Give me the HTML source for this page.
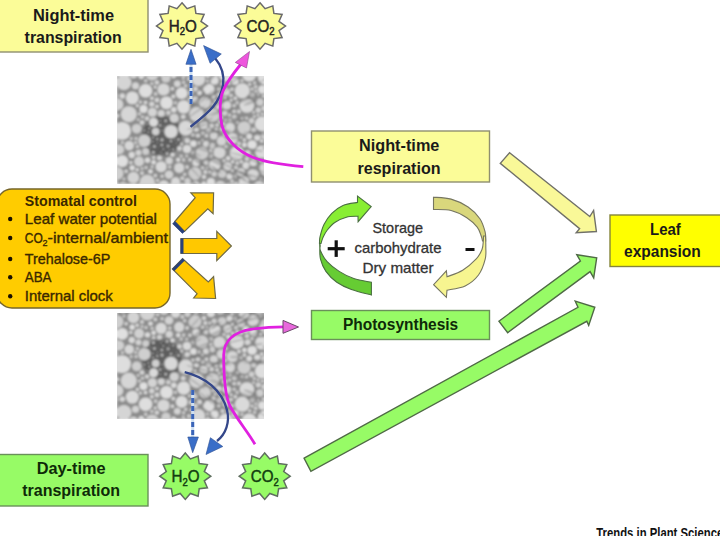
<!DOCTYPE html>
<html><head><meta charset="utf-8"><style>
html,body{margin:0;padding:0;background:#fff;}
body{width:720px;height:536px;overflow:hidden;position:relative;}
svg{position:absolute;left:0;top:0;font-family:"Liberation Sans", sans-serif;}
</style></head><body>
<svg width="720" height="536" viewBox="0 0 720 536">
<defs>
<filter id="blur" x="-5%" y="-5%" width="110%" height="110%"><feGaussianBlur stdDeviation="0.85"/></filter>
<g id="tex" filter="url(#blur)"><rect x="0" y="0" width="148" height="108" fill="#8c8c8c"/>
<ellipse cx="45" cy="60" rx="20" ry="20" fill="#646464"/>
<circle cx="54.0" cy="55.6" r="6.7" fill="rgb(216,216,216)"/>
<circle cx="27.4" cy="64.8" r="6.2" fill="rgb(207,207,207)"/>
<circle cx="36.6" cy="46.3" r="4.5" fill="rgb(218,218,218)"/>
<circle cx="38.7" cy="55.6" r="3.8" fill="rgb(208,208,208)"/>
<circle cx="46.5" cy="13.5" r="6.1" fill="rgb(215,215,215)"/>
<circle cx="97.5" cy="4.4" r="4.1" fill="rgb(222,222,222)"/>
<circle cx="79.6" cy="38.4" r="7.3" fill="rgb(212,212,212)"/>
<circle cx="5.0" cy="54.9" r="8.9" fill="rgb(222,222,222)"/>
<circle cx="6.9" cy="6.5" r="7.5" fill="rgb(213,213,213)"/>
<circle cx="62.2" cy="91.9" r="5.0" fill="rgb(213,213,213)"/>
<circle cx="15.3" cy="21.9" r="6.4" fill="rgb(219,219,219)"/>
<circle cx="93.9" cy="105.9" r="4.0" fill="rgb(223,223,223)"/>
<circle cx="148.3" cy="1.4" r="7.3" fill="rgb(223,223,223)"/>
<circle cx="129.9" cy="29.6" r="7.2" fill="rgb(218,218,218)"/>
<circle cx="18.5" cy="9.7" r="3.5" fill="rgb(212,212,212)"/>
<circle cx="44.1" cy="90.7" r="5.5" fill="rgb(217,217,217)"/>
<circle cx="95.7" cy="39.2" r="6.7" fill="rgb(206,206,206)"/>
<circle cx="81.4" cy="3.3" r="6.7" fill="rgb(216,216,216)"/>
<circle cx="5.3" cy="19.9" r="2.7" fill="rgb(216,216,216)"/>
<circle cx="102.1" cy="45.6" r="1.5" fill="rgb(220,220,220)"/>
<circle cx="45.0" cy="63.9" r="2.3" fill="rgb(181,181,181)" stroke="#2a2a2a" stroke-width="0.7"/>
<circle cx="66.7" cy="30.8" r="6.6" fill="rgb(220,220,220)"/>
<circle cx="119.9" cy="77.1" r="7.0" fill="rgb(219,219,219)"/>
<circle cx="77.9" cy="97.5" r="6.5" fill="rgb(206,206,206)"/>
<circle cx="109.8" cy="29.4" r="4.3" fill="rgb(215,215,215)"/>
<circle cx="61.2" cy="83.8" r="2.1" fill="rgb(222,222,222)"/>
<circle cx="19.7" cy="52.7" r="4.8" fill="rgb(207,207,207)"/>
<circle cx="2.1" cy="73.5" r="5.0" fill="rgb(208,208,208)"/>
<circle cx="115.3" cy="62.5" r="5.6" fill="rgb(213,213,213)"/>
<circle cx="104.5" cy="64.9" r="4.6" fill="rgb(212,212,212)"/>
<circle cx="86.5" cy="48.9" r="4.1" fill="rgb(213,213,213)"/>
<circle cx="127.0" cy="105.6" r="5.0" fill="rgb(217,217,217)"/>
<circle cx="70.0" cy="73.0" r="4.1" fill="rgb(218,218,218)"/>
<circle cx="56.2" cy="73.6" r="1.6" fill="rgb(184,184,184)" stroke="#2a2a2a" stroke-width="0.7"/>
<circle cx="5.2" cy="85.1" r="5.9" fill="rgb(224,224,224)"/>
<circle cx="123.8" cy="96.2" r="4.0" fill="rgb(215,215,215)"/>
<circle cx="52.0" cy="98.6" r="4.2" fill="rgb(211,211,211)"/>
<circle cx="145.4" cy="13.5" r="4.2" fill="rgb(223,223,223)"/>
<circle cx="32.4" cy="52.3" r="1.6" fill="rgb(181,181,181)" stroke="#2a2a2a" stroke-width="0.7"/>
<circle cx="87.9" cy="26.5" r="5.8" fill="rgb(209,209,209)"/>
<circle cx="-3.4" cy="44.6" r="3.3" fill="rgb(220,220,220)"/>
<circle cx="144.7" cy="76.1" r="6.5" fill="rgb(219,219,219)"/>
<circle cx="76.4" cy="67.6" r="3.2" fill="rgb(222,222,222)"/>
<circle cx="136.3" cy="86.5" r="3.6" fill="rgb(221,221,221)"/>
<circle cx="57.2" cy="42.3" r="4.5" fill="rgb(209,209,209)"/>
<circle cx="12.2" cy="69.6" r="4.7" fill="rgb(215,215,215)"/>
<circle cx="28.6" cy="14.8" r="6.7" fill="rgb(222,222,222)"/>
<circle cx="49.0" cy="2.1" r="4.5" fill="rgb(206,206,206)"/>
<circle cx="-4.0" cy="13.5" r="4.4" fill="rgb(213,213,213)"/>
<circle cx="11.8" cy="38.2" r="8.0" fill="rgb(214,214,214)"/>
<circle cx="-0.0" cy="97.4" r="6.4" fill="rgb(207,207,207)"/>
<circle cx="91.8" cy="13.2" r="5.5" fill="rgb(223,223,223)"/>
<circle cx="35.4" cy="36.3" r="4.5" fill="rgb(212,212,212)"/>
<circle cx="68.7" cy="52.1" r="7.3" fill="rgb(216,216,216)"/>
<circle cx="49.5" cy="26.7" r="6.3" fill="rgb(223,223,223)"/>
<circle cx="125.3" cy="14.7" r="7.5" fill="rgb(218,218,218)"/>
<circle cx="-0.4" cy="106.3" r="1.4" fill="rgb(219,219,219)"/>
<circle cx="78.4" cy="13.0" r="2.4" fill="rgb(212,212,212)"/>
<circle cx="78.4" cy="109.5" r="4.4" fill="rgb(210,210,210)"/>
<circle cx="130.7" cy="76.8" r="2.9" fill="rgb(213,213,213)"/>
<circle cx="22.1" cy="85.5" r="4.9" fill="rgb(209,209,209)"/>
<circle cx="79.1" cy="86.4" r="3.6" fill="rgb(219,219,219)"/>
<circle cx="129.0" cy="89.5" r="3.4" fill="rgb(218,218,218)"/>
<circle cx="31.4" cy="56.0" r="1.5" fill="rgb(179,179,179)" stroke="#2a2a2a" stroke-width="0.7"/>
<circle cx="0.4" cy="28.4" r="5.9" fill="rgb(212,212,212)"/>
<circle cx="36.4" cy="76.3" r="2.1" fill="rgb(184,184,184)" stroke="#2a2a2a" stroke-width="0.7"/>
<circle cx="145.2" cy="47.9" r="7.3" fill="rgb(222,222,222)"/>
<circle cx="142.2" cy="110.6" r="5.5" fill="rgb(213,213,213)"/>
<circle cx="127.1" cy="51.6" r="6.4" fill="rgb(206,206,206)"/>
<circle cx="97.9" cy="88.8" r="5.7" fill="rgb(219,219,219)"/>
<circle cx="113.0" cy="51.5" r="4.8" fill="rgb(214,214,214)"/>
<circle cx="58.6" cy="105.8" r="4.5" fill="rgb(217,217,217)"/>
<circle cx="109.1" cy="15.7" r="3.7" fill="rgb(217,217,217)"/>
<circle cx="16.4" cy="-2.3" r="4.5" fill="rgb(217,217,217)"/>
<circle cx="16.4" cy="101.6" r="5.8" fill="rgb(212,212,212)"/>
<circle cx="87.0" cy="100.9" r="2.1" fill="rgb(218,218,218)"/>
<circle cx="64.7" cy="17.2" r="5.9" fill="rgb(222,222,222)"/>
<circle cx="-3.4" cy="88.7" r="1.9" fill="rgb(211,211,211)"/>
<circle cx="34.8" cy="28.1" r="2.6" fill="rgb(214,214,214)"/>
<circle cx="91.6" cy="54.6" r="2.6" fill="rgb(211,211,211)"/>
<circle cx="75.9" cy="76.4" r="1.6" fill="rgb(213,213,213)"/>
<circle cx="70.6" cy="105.2" r="3.1" fill="rgb(207,207,207)"/>
<circle cx="105.1" cy="97.7" r="4.0" fill="rgb(206,206,206)"/>
<circle cx="143.0" cy="26.1" r="3.7" fill="rgb(207,207,207)"/>
<circle cx="118.3" cy="100.1" r="1.8" fill="rgb(206,206,206)"/>
<circle cx="30.3" cy="106.5" r="7.7" fill="rgb(211,211,211)"/>
<circle cx="150.4" cy="92.6" r="7.8" fill="rgb(213,213,213)"/>
<circle cx="26.5" cy="32.9" r="3.9" fill="rgb(224,224,224)"/>
<circle cx="108.7" cy="-1.7" r="7.1" fill="rgb(224,224,224)"/>
<circle cx="6.0" cy="110.3" r="4.3" fill="rgb(206,206,206)"/>
<circle cx="119.0" cy="108.7" r="2.7" fill="rgb(210,210,210)"/>
<circle cx="38.2" cy="11.0" r="1.5" fill="rgb(223,223,223)"/>
<circle cx="85.0" cy="77.2" r="6.2" fill="rgb(207,207,207)"/>
<circle cx="9.1" cy="95.3" r="1.8" fill="rgb(216,216,216)"/>
<circle cx="78.2" cy="23.7" r="3.2" fill="rgb(212,212,212)"/>
<circle cx="74.0" cy="16.6" r="2.2" fill="rgb(210,210,210)"/>
<circle cx="35.1" cy="-2.2" r="6.6" fill="rgb(208,208,208)"/>
<circle cx="103.3" cy="110.0" r="5.3" fill="rgb(208,208,208)"/>
<circle cx="40.0" cy="24.1" r="2.4" fill="rgb(214,214,214)"/>
<circle cx="147.7" cy="59.5" r="3.7" fill="rgb(209,209,209)"/>
<circle cx="44.3" cy="37.4" r="3.4" fill="rgb(212,212,212)"/>
<circle cx="27.4" cy="54.5" r="1.6" fill="rgb(180,180,180)" stroke="#2a2a2a" stroke-width="0.7"/>
<circle cx="56.8" cy="33.8" r="2.7" fill="rgb(220,220,220)"/>
<circle cx="109.0" cy="70.6" r="1.7" fill="rgb(211,211,211)"/>
<circle cx="135.1" cy="68.8" r="4.6" fill="rgb(224,224,224)"/>
<circle cx="110.5" cy="90.2" r="4.3" fill="rgb(212,212,212)"/>
<circle cx="102.5" cy="76.4" r="6.0" fill="rgb(214,214,214)"/>
<circle cx="93.7" cy="75.0" r="1.9" fill="rgb(207,207,207)"/>
<circle cx="72.3" cy="-3.6" r="3.7" fill="rgb(222,222,222)"/>
<circle cx="111.4" cy="109.2" r="2.0" fill="rgb(215,215,215)"/>
<circle cx="101.4" cy="29.7" r="3.2" fill="rgb(221,221,221)"/>
<circle cx="68.7" cy="9.7" r="1.5" fill="rgb(221,221,221)"/>
<circle cx="135.4" cy="19.1" r="2.6" fill="rgb(213,213,213)"/>
<circle cx="148.6" cy="104.6" r="2.4" fill="rgb(209,209,209)"/>
<circle cx="-3.7" cy="83.1" r="2.2" fill="rgb(221,221,221)"/>
<circle cx="151.8" cy="64.3" r="1.8" fill="rgb(214,214,214)"/>
<circle cx="40.6" cy="104.5" r="1.7" fill="rgb(210,210,210)"/>
<circle cx="42.5" cy="81.7" r="2.5" fill="rgb(211,211,211)"/>
<circle cx="112.9" cy="43.9" r="1.9" fill="rgb(211,211,211)"/>
<circle cx="132.2" cy="-1.5" r="7.0" fill="rgb(221,221,221)"/>
<circle cx="87.6" cy="-4.0" r="1.7" fill="rgb(222,222,222)"/>
<circle cx="43.0" cy="49.4" r="1.8" fill="rgb(193,193,193)" stroke="#2a2a2a" stroke-width="0.7"/>
<circle cx="48.7" cy="44.8" r="1.9" fill="rgb(194,194,194)" stroke="#2a2a2a" stroke-width="0.7"/>
<circle cx="102.5" cy="19.0" r="2.8" fill="rgb(208,208,208)"/>
<circle cx="147.3" cy="32.2" r="2.8" fill="rgb(211,211,211)"/>
<circle cx="30.5" cy="84.2" r="2.6" fill="rgb(220,220,220)"/>
<circle cx="136.1" cy="98.5" r="5.6" fill="rgb(214,214,214)"/>
<circle cx="141.3" cy="34.2" r="2.6" fill="rgb(210,210,210)"/>
<circle cx="146.4" cy="20.1" r="1.5" fill="rgb(217,217,217)"/>
<circle cx="112.6" cy="100.2" r="3.0" fill="rgb(219,219,219)"/>
<circle cx="124.3" cy="85.6" r="1.8" fill="rgb(219,219,219)"/>
<circle cx="118.0" cy="5.2" r="3.6" fill="rgb(223,223,223)"/>
<circle cx="46.8" cy="109.7" r="5.4" fill="rgb(217,217,217)"/>
<circle cx="133.8" cy="110.6" r="1.9" fill="rgb(212,212,212)"/>
<circle cx="106.7" cy="47.8" r="1.6" fill="rgb(214,214,214)"/>
<circle cx="70.1" cy="91.0" r="1.8" fill="rgb(220,220,220)"/>
<circle cx="141.1" cy="39.2" r="1.4" fill="rgb(214,214,214)"/>
<circle cx="36.6" cy="86.2" r="2.2" fill="rgb(224,224,224)"/>
<circle cx="89.0" cy="67.9" r="2.9" fill="rgb(216,216,216)"/>
<circle cx="35.8" cy="65.5" r="1.4" fill="rgb(178,178,178)" stroke="#2a2a2a" stroke-width="0.7"/>
<circle cx="21.5" cy="76.7" r="2.9" fill="rgb(211,211,211)"/>
<circle cx="30.0" cy="42.4" r="2.1" fill="rgb(215,215,215)"/>
<circle cx="89.5" cy="59.8" r="1.8" fill="rgb(214,214,214)"/>
<circle cx="61.5" cy="63.6" r="1.8" fill="rgb(193,193,193)" stroke="#2a2a2a" stroke-width="0.7"/>
<circle cx="62.4" cy="72.4" r="2.4" fill="rgb(214,214,214)"/>
<circle cx="72.4" cy="23.3" r="1.5" fill="rgb(212,212,212)"/>
<circle cx="138.9" cy="15.2" r="1.6" fill="rgb(210,210,210)"/>
<circle cx="28.5" cy="26.5" r="1.8" fill="rgb(223,223,223)"/>
<circle cx="132.2" cy="60.4" r="2.8" fill="rgb(219,219,219)"/>
<circle cx="120.4" cy="26.7" r="1.8" fill="rgb(216,216,216)"/>
<circle cx="52.2" cy="84.7" r="3.5" fill="rgb(212,212,212)"/>
<circle cx="44.8" cy="-3.8" r="1.7" fill="rgb(220,220,220)"/>
<circle cx="-3.6" cy="37.2" r="2.6" fill="rgb(208,208,208)"/>
<circle cx="37.4" cy="70.5" r="2.1" fill="rgb(180,180,180)" stroke="#2a2a2a" stroke-width="0.7"/>
<circle cx="64.2" cy="80.1" r="1.6" fill="rgb(207,207,207)"/>
<circle cx="52.7" cy="90.8" r="1.6" fill="rgb(213,213,213)"/>
<circle cx="114.1" cy="19.8" r="1.9" fill="rgb(221,221,221)"/>
<circle cx="50.1" cy="77.7" r="2.1" fill="rgb(191,191,191)" stroke="#2a2a2a" stroke-width="0.7"/>
<circle cx="105.1" cy="53.8" r="2.6" fill="rgb(216,216,216)"/>
<circle cx="136.6" cy="54.1" r="2.5" fill="rgb(206,206,206)"/>
<circle cx="20.2" cy="93.8" r="1.7" fill="rgb(221,221,221)"/>
<circle cx="56.6" cy="-0.1" r="2.3" fill="rgb(223,223,223)"/>
<circle cx="94.7" cy="49.7" r="2.3" fill="rgb(210,210,210)"/>
<circle cx="44.8" cy="68.9" r="1.9" fill="rgb(186,186,186)" stroke="#2a2a2a" stroke-width="0.7"/>
<circle cx="117.4" cy="41.1" r="2.4" fill="rgb(207,207,207)"/>
<circle cx="28.8" cy="75.4" r="3.4" fill="rgb(206,206,206)"/>
<circle cx="15.1" cy="110.2" r="1.8" fill="rgb(215,215,215)"/>
<circle cx="51.1" cy="70.1" r="2.1" fill="rgb(176,176,176)" stroke="#2a2a2a" stroke-width="0.7"/>
<circle cx="94.8" cy="-2.3" r="2.2" fill="rgb(212,212,212)"/>
<circle cx="98.3" cy="25.0" r="1.6" fill="rgb(207,207,207)"/>
<circle cx="95.4" cy="69.8" r="2.6" fill="rgb(220,220,220)"/>
<circle cx="125.1" cy="42.8" r="1.7" fill="rgb(208,208,208)"/>
<circle cx="100.1" cy="49.1" r="1.7" fill="rgb(222,222,222)"/>
<circle cx="24.3" cy="0.3" r="2.7" fill="rgb(223,223,223)"/>
<circle cx="43.1" cy="44.9" r="1.4" fill="rgb(180,180,180)" stroke="#2a2a2a" stroke-width="0.7"/>
<circle cx="60.3" cy="7.8" r="3.3" fill="rgb(213,213,213)"/>
<circle cx="96.5" cy="20.6" r="2.2" fill="rgb(214,214,214)"/>
<circle cx="71.9" cy="2.9" r="1.8" fill="rgb(218,218,218)"/>
<circle cx="70.3" cy="64.4" r="2.6" fill="rgb(213,213,213)"/>
<circle cx="151.6" cy="39.4" r="2.4" fill="rgb(210,210,210)"/>
<circle cx="143.7" cy="85.0" r="1.4" fill="rgb(224,224,224)"/>
<circle cx="36.1" cy="61.5" r="1.6" fill="rgb(181,181,181)" stroke="#2a2a2a" stroke-width="0.7"/>
<circle cx="127.4" cy="68.9" r="2.3" fill="rgb(224,224,224)"/>
<circle cx="121.9" cy="35.5" r="1.9" fill="rgb(213,213,213)"/>
<circle cx="25.0" cy="46.5" r="2.3" fill="rgb(214,214,214)"/>
<circle cx="25.0" cy="92.5" r="1.5" fill="rgb(206,206,206)"/>
<circle cx="53.9" cy="65.0" r="1.9" fill="rgb(180,180,180)" stroke="#2a2a2a" stroke-width="0.7"/>
<circle cx="14.8" cy="78.9" r="3.1" fill="rgb(218,218,218)"/>
<circle cx="46.1" cy="78.5" r="1.2" fill="rgb(192,192,192)" stroke="#2a2a2a" stroke-width="0.7"/>
<circle cx="35.1" cy="90.8" r="1.5" fill="rgb(211,211,211)"/>
<circle cx="-1.2" cy="65.5" r="2.4" fill="rgb(211,211,211)"/>
<circle cx="85.9" cy="56.7" r="1.9" fill="rgb(212,212,212)"/>
<circle cx="105.6" cy="7.9" r="2.1" fill="rgb(212,212,212)"/>
<circle cx="88.3" cy="95.9" r="2.0" fill="rgb(216,216,216)"/>
<circle cx="19.0" cy="62.4" r="1.5" fill="rgb(214,214,214)"/>
<circle cx="117.2" cy="35.3" r="1.9" fill="rgb(209,209,209)"/>
<circle cx="111.2" cy="82.2" r="2.2" fill="rgb(219,219,219)"/>
<circle cx="138.7" cy="10.8" r="1.9" fill="rgb(207,207,207)"/>
<circle cx="-2.3" cy="1.5" r="2.0" fill="rgb(216,216,216)"/>
<circle cx="134.6" cy="44.8" r="2.8" fill="rgb(208,208,208)"/>
<circle cx="20.4" cy="29.6" r="1.7" fill="rgb(217,217,217)"/>
<circle cx="43.9" cy="76.1" r="1.3" fill="rgb(193,193,193)" stroke="#2a2a2a" stroke-width="0.7"/>
<circle cx="127.4" cy="64.0" r="1.7" fill="rgb(219,219,219)"/>
<circle cx="107.6" cy="37.0" r="2.7" fill="rgb(209,209,209)"/>
<circle cx="66.2" cy="40.7" r="2.3" fill="rgb(215,215,215)"/>
<circle cx="86.9" cy="107.3" r="2.0" fill="rgb(222,222,222)"/>
<circle cx="64.6" cy="67.9" r="1.5" fill="rgb(209,209,209)"/>
<circle cx="45.1" cy="100.3" r="1.7" fill="rgb(211,211,211)"/>
<circle cx="108.1" cy="21.7" r="1.5" fill="rgb(212,212,212)"/>
<circle cx="15.2" cy="91.8" r="2.6" fill="rgb(224,224,224)"/>
<circle cx="76.0" cy="58.9" r="1.6" fill="rgb(210,210,210)"/>
<circle cx="46.1" cy="72.9" r="1.5" fill="rgb(177,177,177)" stroke="#2a2a2a" stroke-width="0.7"/>
<circle cx="104.4" cy="41.7" r="1.5" fill="rgb(219,219,219)"/>
<circle cx="39.9" cy="6.4" r="2.2" fill="rgb(215,215,215)"/>
<circle cx="46.6" cy="50.4" r="1.1" fill="rgb(182,182,182)" stroke="#2a2a2a" stroke-width="0.7"/>
<circle cx="65.1" cy="108.5" r="1.4" fill="rgb(221,221,221)"/>
<circle cx="55.4" cy="12.7" r="1.7" fill="rgb(222,222,222)"/>
<circle cx="22.5" cy="37.9" r="1.4" fill="rgb(219,219,219)"/>
<circle cx="140.3" cy="61.4" r="3.1" fill="rgb(219,219,219)"/>
<circle cx="107.0" cy="84.5" r="1.5" fill="rgb(215,215,215)"/>
<circle cx="150.4" cy="22.5" r="2.2" fill="rgb(206,206,206)"/>
<circle cx="82.6" cy="17.1" r="2.4" fill="rgb(219,219,219)"/>
<circle cx="-0.9" cy="110.9" r="1.5" fill="rgb(215,215,215)"/>
<circle cx="74.1" cy="9.0" r="1.5" fill="rgb(213,213,213)"/>
<circle cx="80.9" cy="59.7" r="2.2" fill="rgb(209,209,209)"/>
<circle cx="96.8" cy="59.7" r="3.8" fill="rgb(211,211,211)"/>
<circle cx="69.8" cy="79.7" r="1.5" fill="rgb(209,209,209)"/>
<circle cx="66.6" cy="6.2" r="1.5" fill="rgb(216,216,216)"/>
<circle cx="38.3" cy="99.6" r="1.8" fill="rgb(213,213,213)"/>
<circle cx="88.9" cy="86.9" r="2.4" fill="rgb(206,206,206)"/>
<circle cx="101.9" cy="13.5" r="1.8" fill="rgb(221,221,221)"/>
<circle cx="49.0" cy="65.0" r="1.1" fill="rgb(188,188,188)" stroke="#2a2a2a" stroke-width="0.7"/>
<circle cx="145.4" cy="38.0" r="1.6" fill="rgb(215,215,215)"/>
<circle cx="135.0" cy="80.5" r="1.6" fill="rgb(211,211,211)"/>
<circle cx="96.1" cy="28.6" r="1.4" fill="rgb(222,222,222)"/>
<circle cx="85.7" cy="91.8" r="1.8" fill="rgb(209,209,209)"/>
<circle cx="25.0" cy="97.1" r="1.9" fill="rgb(215,215,215)"/>
<circle cx="97.2" cy="97.9" r="2.6" fill="rgb(206,206,206)"/>
<circle cx="90.1" cy="91.6" r="1.5" fill="rgb(212,212,212)"/>
<circle cx="94.3" cy="80.0" r="2.1" fill="rgb(209,209,209)"/>
<circle cx="143.9" cy="102.7" r="1.7" fill="rgb(220,220,220)"/>
<circle cx="69.5" cy="110.9" r="1.6" fill="rgb(209,209,209)"/>
<circle cx="137.3" cy="40.4" r="1.5" fill="rgb(211,211,211)"/>
<circle cx="33.4" cy="71.3" r="1.2" fill="rgb(177,177,177)" stroke="#2a2a2a" stroke-width="0.7"/>
<circle cx="118.9" cy="91.6" r="1.9" fill="rgb(212,212,212)"/>
<circle cx="114.9" cy="13.1" r="1.9" fill="rgb(213,213,213)"/>
<circle cx="59.6" cy="66.9" r="1.2" fill="rgb(183,183,183)" stroke="#2a2a2a" stroke-width="0.7"/>
<circle cx="6.9" cy="-3.4" r="1.4" fill="rgb(218,218,218)"/>
<circle cx="34.9" cy="7.6" r="1.7" fill="rgb(207,207,207)"/>
<circle cx="21.2" cy="43.6" r="1.4" fill="rgb(208,208,208)"/>
<circle cx="45.3" cy="54.5" r="1.3" fill="rgb(184,184,184)" stroke="#2a2a2a" stroke-width="0.7"/>
<circle cx="114.1" cy="24.1" r="1.4" fill="rgb(224,224,224)"/>
<circle cx="64.3" cy="-3.6" r="3.3" fill="rgb(219,219,219)"/>
<circle cx="33.5" cy="95.4" r="2.2" fill="rgb(224,224,224)"/>
<circle cx="82.1" cy="67.0" r="1.4" fill="rgb(207,207,207)"/>
<circle cx="117.2" cy="29.9" r="1.8" fill="rgb(210,210,210)"/>
<circle cx="65.3" cy="102.2" r="1.9" fill="rgb(211,211,211)"/>
<circle cx="111.8" cy="7.3" r="1.6" fill="rgb(215,215,215)"/>
<circle cx="23.4" cy="26.1" r="1.5" fill="rgb(219,219,219)"/>
<circle cx="115.6" cy="85.7" r="1.6" fill="rgb(223,223,223)"/>
<circle cx="59.8" cy="48.2" r="1.1" fill="rgb(190,190,190)" stroke="#2a2a2a" stroke-width="0.7"/>
<circle cx="43.0" cy="59.2" r="1.0" fill="rgb(181,181,181)" stroke="#2a2a2a" stroke-width="0.7"/>
<circle cx="73.0" cy="83.8" r="1.8" fill="rgb(213,213,213)"/>
<circle cx="29.0" cy="91.5" r="1.5" fill="rgb(216,216,216)"/>
<circle cx="124.9" cy="4.7" r="1.6" fill="rgb(207,207,207)"/>
<circle cx="28.7" cy="4.7" r="1.7" fill="rgb(208,208,208)"/>
<circle cx="53.2" cy="-3.9" r="1.7" fill="rgb(224,224,224)"/>
<circle cx="62.0" cy="58.7" r="1.1" fill="rgb(189,189,189)" stroke="#2a2a2a" stroke-width="0.7"/>
<circle cx="150.4" cy="111.9" r="1.9" fill="rgb(222,222,222)"/>
<circle cx="144.8" cy="65.0" r="1.7" fill="rgb(224,224,224)"/>
<circle cx="108.0" cy="58.4" r="1.9" fill="rgb(212,212,212)"/>
<circle cx="132.7" cy="8.2" r="1.5" fill="rgb(220,220,220)"/>
<circle cx="79.4" cy="53.7" r="2.4" fill="rgb(218,218,218)"/>
<circle cx="99.3" cy="53.2" r="1.6" fill="rgb(212,212,212)"/>
<circle cx="55.5" cy="78.6" r="2.2" fill="rgb(218,218,218)"/>
<circle cx="5.4" cy="66.4" r="1.6" fill="rgb(206,206,206)"/>
<circle cx="20.1" cy="109.5" r="1.8" fill="rgb(216,216,216)"/>
<circle cx="129.4" cy="42.5" r="1.7" fill="rgb(219,219,219)"/>
<circle cx="40.3" cy="63.1" r="1.6" fill="rgb(193,193,193)" stroke="#2a2a2a" stroke-width="0.7"/>
<circle cx="135.0" cy="13.1" r="1.5" fill="rgb(217,217,217)"/>
<circle cx="90.8" cy="5.2" r="1.7" fill="rgb(218,218,218)"/>
<circle cx="66.4" cy="2.1" r="1.5" fill="rgb(210,210,210)"/>
<circle cx="67.7" cy="98.3" r="1.6" fill="rgb(213,213,213)"/>
<circle cx="57.0" cy="70.1" r="1.1" fill="rgb(186,186,186)" stroke="#2a2a2a" stroke-width="0.7"/>
<circle cx="18.7" cy="66.7" r="1.4" fill="rgb(217,217,217)"/>
<circle cx="40.0" cy="30.5" r="1.8" fill="rgb(219,219,219)"/>
<circle cx="112.5" cy="39.0" r="1.6" fill="rgb(213,213,213)"/>
<circle cx="89.5" cy="111.8" r="2.2" fill="rgb(212,212,212)"/>
<circle cx="-0.3" cy="19.7" r="1.7" fill="rgb(208,208,208)"/>
<circle cx="118.3" cy="22.2" r="1.8" fill="rgb(219,219,219)"/>
<circle cx="38.6" cy="17.9" r="1.9" fill="rgb(206,206,206)"/>
<circle cx="0.9" cy="39.8" r="1.5" fill="rgb(216,216,216)"/>
<circle cx="56.3" cy="20.4" r="1.9" fill="rgb(218,218,218)"/>
<circle cx="42.8" cy="73.0" r="1.0" fill="rgb(189,189,189)" stroke="#2a2a2a" stroke-width="0.7"/>
<circle cx="119.6" cy="-2.4" r="3.0" fill="rgb(220,220,220)"/>
<circle cx="13.8" cy="86.6" r="1.7" fill="rgb(218,218,218)"/>
<circle cx="25.5" cy="40.8" r="1.6" fill="rgb(208,208,208)"/>
<circle cx="40.9" cy="75.1" r="1.0" fill="rgb(184,184,184)" stroke="#2a2a2a" stroke-width="0.7"/>
<circle cx="85.4" cy="63.8" r="1.4" fill="rgb(213,213,213)"/>
<circle cx="151.3" cy="70.2" r="1.4" fill="rgb(223,223,223)"/>
<circle cx="36.7" cy="81.4" r="1.5" fill="rgb(223,223,223)"/>
<circle cx="122.0" cy="67.6" r="1.8" fill="rgb(220,220,220)"/>
<circle cx="120.2" cy="87.1" r="1.8" fill="rgb(215,215,215)"/>
<circle cx="92.7" cy="95.9" r="1.5" fill="rgb(213,213,213)"/>
<circle cx="30.2" cy="48.2" r="1.4" fill="rgb(187,187,187)" stroke="#2a2a2a" stroke-width="0.7"/>
<circle cx="34.9" cy="22.3" r="1.8" fill="rgb(220,220,220)"/>
<circle cx="14.2" cy="62.6" r="1.5" fill="rgb(206,206,206)"/>
<circle cx="150.9" cy="27.4" r="1.9" fill="rgb(209,209,209)"/>
<circle cx="103.1" cy="24.5" r="1.5" fill="rgb(223,223,223)"/>
<circle cx="115.4" cy="94.6" r="1.4" fill="rgb(220,220,220)"/>
<circle cx="120.4" cy="45.9" r="1.5" fill="rgb(209,209,209)"/>
<circle cx="123.9" cy="61.6" r="1.6" fill="rgb(214,214,214)"/>
<circle cx="148.8" cy="67.2" r="1.4" fill="rgb(208,208,208)"/>
<circle cx="51.4" cy="36.8" r="2.3" fill="rgb(208,208,208)"/>
<circle cx="141.1" cy="18.4" r="1.4" fill="rgb(213,213,213)"/>
<circle cx="136.6" cy="36.4" r="1.4" fill="rgb(211,211,211)"/>
<circle cx="20.4" cy="70.5" r="1.6" fill="rgb(212,212,212)"/>
<circle cx="0.7" cy="-2.8" r="2.2" fill="rgb(215,215,215)"/>
<circle cx="66.6" cy="83.9" r="1.8" fill="rgb(206,206,206)"/>
<circle cx="129.9" cy="82.9" r="2.3" fill="rgb(210,210,210)"/>
<circle cx="28.6" cy="51.1" r="1.1" fill="rgb(176,176,176)" stroke="#2a2a2a" stroke-width="0.7"/>
<circle cx="52.4" cy="74.0" r="1.2" fill="rgb(187,187,187)" stroke="#2a2a2a" stroke-width="0.7"/>
<circle cx="7.0" cy="103.1" r="1.5" fill="rgb(207,207,207)"/>
<circle cx="90.7" cy="0.4" r="1.7" fill="rgb(214,214,214)"/>
<circle cx="137.6" cy="6.7" r="1.5" fill="rgb(214,214,214)"/>
<circle cx="115.0" cy="105.2" r="1.7" fill="rgb(213,213,213)"/>
<circle cx="78.1" cy="48.3" r="1.5" fill="rgb(206,206,206)"/>
<circle cx="108.6" cy="44.3" r="1.5" fill="rgb(219,219,219)"/>
<circle cx="40.3" cy="66.5" r="1.1" fill="rgb(187,187,187)" stroke="#2a2a2a" stroke-width="0.7"/>
<circle cx="58.4" cy="26.7" r="1.5" fill="rgb(213,213,213)"/>
<circle cx="57.8" cy="63.5" r="1.2" fill="rgb(188,188,188)" stroke="#2a2a2a" stroke-width="0.7"/>
<circle cx="-3.1" cy="5.9" r="1.4" fill="rgb(207,207,207)"/>
<ellipse cx="134.2" cy="18.5" rx="5.7" ry="1.2" fill="rgb(118,118,118)" opacity="0.35" transform="rotate(-25 134.2 18.5)"/>
<ellipse cx="98.2" cy="36.4" rx="9.4" ry="0.7" fill="rgb(118,118,118)" opacity="0.35" transform="rotate(-24 98.2 36.4)"/>
<ellipse cx="100.9" cy="71.0" rx="12.0" ry="0.8" fill="rgb(117,117,117)" opacity="0.35" transform="rotate(11 100.9 71.0)"/>
<ellipse cx="131.3" cy="22.6" rx="12.8" ry="1.4" fill="rgb(98,98,98)" opacity="0.35" transform="rotate(-23 131.3 22.6)"/>
<ellipse cx="119.9" cy="94.1" rx="11.9" ry="0.8" fill="rgb(125,125,125)" opacity="0.35" transform="rotate(24 119.9 94.1)"/>
<ellipse cx="99.6" cy="94.3" rx="5.4" ry="1.0" fill="rgb(108,108,108)" opacity="0.35" transform="rotate(32 99.6 94.3)"/>
<ellipse cx="115.3" cy="32.5" rx="5.9" ry="0.9" fill="rgb(95,95,95)" opacity="0.35" transform="rotate(-21 115.3 32.5)"/>
<ellipse cx="120.5" cy="78.3" rx="10.5" ry="0.9" fill="rgb(114,114,114)" opacity="0.35" transform="rotate(14 120.5 78.3)"/>
<ellipse cx="140.2" cy="85.8" rx="8.6" ry="1.2" fill="rgb(102,102,102)" opacity="0.35" transform="rotate(15 140.2 85.8)"/>
<ellipse cx="78.8" cy="77.6" rx="6.2" ry="1.0" fill="rgb(122,122,122)" opacity="0.35" transform="rotate(28 78.8 77.6)"/>
<ellipse cx="100.7" cy="27.9" rx="9.3" ry="0.8" fill="rgb(99,99,99)" opacity="0.35" transform="rotate(-30 100.7 27.9)"/>
<ellipse cx="139.9" cy="93.8" rx="10.6" ry="1.0" fill="rgb(123,123,123)" opacity="0.35" transform="rotate(20 139.9 93.8)"/>
<ellipse cx="102.9" cy="36.2" rx="9.6" ry="0.9" fill="rgb(96,96,96)" opacity="0.35" transform="rotate(-22 102.9 36.2)"/>
<ellipse cx="76.8" cy="95.0" rx="10.0" ry="0.9" fill="rgb(116,116,116)" opacity="0.35" transform="rotate(48 76.8 95.0)"/>
<ellipse cx="87.7" cy="45.1" rx="9.1" ry="1.1" fill="rgb(95,95,95)" opacity="0.35" transform="rotate(-19 87.7 45.1)"/>
<ellipse cx="79.6" cy="35.7" rx="10.4" ry="0.8" fill="rgb(96,96,96)" opacity="0.35" transform="rotate(-35 79.6 35.7)"/>
<ellipse cx="133.6" cy="26.5" rx="7.5" ry="1.5" fill="rgb(110,110,110)" opacity="0.35" transform="rotate(-21 133.6 26.5)"/>
<ellipse cx="98.3" cy="92.7" rx="6.1" ry="1.1" fill="rgb(113,113,113)" opacity="0.35" transform="rotate(31 98.3 92.7)"/>
<ellipse cx="89.6" cy="20.4" rx="9.0" ry="1.0" fill="rgb(106,106,106)" opacity="0.35" transform="rotate(-42 89.6 20.4)"/>
<ellipse cx="98.4" cy="45.6" rx="5.8" ry="0.9" fill="rgb(120,120,120)" opacity="0.35" transform="rotate(-15 98.4 45.6)"/>
<ellipse cx="143.9" cy="103.3" rx="12.9" ry="1.4" fill="rgb(114,114,114)" opacity="0.35" transform="rotate(24 143.9 103.3)"/>
<ellipse cx="111.8" cy="96.4" rx="10.8" ry="1.5" fill="rgb(119,119,119)" opacity="0.35" transform="rotate(29 111.8 96.4)"/>
<ellipse cx="131.0" cy="106.4" rx="12.5" ry="0.9" fill="rgb(116,116,116)" opacity="0.35" transform="rotate(28 131.0 106.4)"/>
<ellipse cx="126.4" cy="98.6" rx="9.8" ry="1.1" fill="rgb(112,112,112)" opacity="0.35" transform="rotate(25 126.4 98.6)"/>
<ellipse cx="87.9" cy="89.4" rx="12.2" ry="1.1" fill="rgb(110,110,110)" opacity="0.35" transform="rotate(34 87.9 89.4)"/>
<ellipse cx="147.5" cy="102.7" rx="8.8" ry="0.9" fill="rgb(112,112,112)" opacity="0.35" transform="rotate(23 147.5 102.7)"/>
<ellipse cx="128.7" cy="98.0" rx="7.5" ry="0.7" fill="rgb(106,106,106)" opacity="0.35" transform="rotate(24 128.7 98.0)"/>
<ellipse cx="103.5" cy="86.3" rx="11.9" ry="0.9" fill="rgb(121,121,121)" opacity="0.35" transform="rotate(24 103.5 86.3)"/>
<ellipse cx="120.0" cy="2.7" rx="7.5" ry="1.0" fill="rgb(99,99,99)" opacity="0.35" transform="rotate(-37 120.0 2.7)"/>
<ellipse cx="147.8" cy="3.4" rx="8.2" ry="0.7" fill="rgb(114,114,114)" opacity="0.35" transform="rotate(-29 147.8 3.4)"/>
<ellipse cx="80.1" cy="25.4" rx="7.5" ry="0.8" fill="rgb(109,109,109)" opacity="0.35" transform="rotate(-45 80.1 25.4)"/>
<ellipse cx="77.2" cy="107.5" rx="11.0" ry="1.4" fill="rgb(105,105,105)" opacity="0.35" transform="rotate(56 77.2 107.5)"/>
<ellipse cx="79.0" cy="84.7" rx="11.6" ry="1.2" fill="rgb(122,122,122)" opacity="0.35" transform="rotate(36 79.0 84.7)"/>
<ellipse cx="80.2" cy="50.8" rx="11.3" ry="1.0" fill="rgb(96,96,96)" opacity="0.35" transform="rotate(-15 80.2 50.8)"/>
<ellipse cx="102.5" cy="55.4" rx="12.5" ry="1.4" fill="rgb(101,101,101)" opacity="0.35" transform="rotate(-5 102.5 55.4)"/>
<ellipse cx="106.2" cy="25.6" rx="11.8" ry="1.4" fill="rgb(101,101,101)" opacity="0.35" transform="rotate(-29 106.2 25.6)"/>
<ellipse cx="115.7" cy="43.1" rx="11.2" ry="1.1" fill="rgb(120,120,120)" opacity="0.35" transform="rotate(-13 115.7 43.1)"/>
<ellipse cx="151.3" cy="72.7" rx="6.7" ry="1.4" fill="rgb(99,99,99)" opacity="0.35" transform="rotate(7 151.3 72.7)"/>
<ellipse cx="121.2" cy="82.8" rx="9.9" ry="0.7" fill="rgb(115,115,115)" opacity="0.35" transform="rotate(17 121.2 82.8)"/>
<ellipse cx="119.1" cy="62.0" rx="6.6" ry="1.5" fill="rgb(120,120,120)" opacity="0.35" transform="rotate(2 119.1 62.0)"/>
<ellipse cx="106.6" cy="16.3" rx="12.7" ry="0.7" fill="rgb(95,95,95)" opacity="0.35" transform="rotate(-35 106.6 16.3)"/>
<ellipse cx="152.6" cy="102.2" rx="10.6" ry="0.7" fill="rgb(112,112,112)" opacity="0.35" transform="rotate(21 152.6 102.2)"/>
<ellipse cx="137.7" cy="56.0" rx="12.0" ry="1.0" fill="rgb(120,120,120)" opacity="0.35" transform="rotate(-2 137.7 56.0)"/>
<ellipse cx="123.8" cy="96.9" rx="8.7" ry="0.9" fill="rgb(107,107,107)" opacity="0.35" transform="rotate(25 123.8 96.9)"/>
<ellipse cx="136.3" cy="73.9" rx="10.1" ry="1.4" fill="rgb(111,111,111)" opacity="0.35" transform="rotate(9 136.3 73.9)"/>
<ellipse cx="128.7" cy="97.6" rx="6.7" ry="1.0" fill="rgb(124,124,124)" opacity="0.35" transform="rotate(24 128.7 97.6)"/>
<ellipse cx="147.6" cy="102.9" rx="8.2" ry="0.9" fill="rgb(124,124,124)" opacity="0.35" transform="rotate(23 147.6 102.9)"/>
<ellipse cx="124.4" cy="44.2" rx="6.5" ry="1.4" fill="rgb(98,98,98)" opacity="0.35" transform="rotate(-11 124.4 44.2)"/>
<ellipse cx="99.2" cy="86.5" rx="10.2" ry="1.4" fill="rgb(115,115,115)" opacity="0.35" transform="rotate(26 99.2 86.5)"/>
<ellipse cx="87.6" cy="74.2" rx="9.3" ry="1.2" fill="rgb(111,111,111)" opacity="0.35" transform="rotate(19 87.6 74.2)"/>
<ellipse cx="79.2" cy="62.6" rx="9.8" ry="1.3" fill="rgb(98,98,98)" opacity="0.35" transform="rotate(4 79.2 62.6)"/>
<ellipse cx="88.3" cy="55.3" rx="11.7" ry="1.5" fill="rgb(122,122,122)" opacity="0.35" transform="rotate(-6 88.3 55.3)"/>
<ellipse cx="142.1" cy="58.4" rx="7.3" ry="1.4" fill="rgb(110,110,110)" opacity="0.35" transform="rotate(-1 142.1 58.4)"/>
<ellipse cx="94.1" cy="3.0" rx="11.3" ry="1.4" fill="rgb(116,116,116)" opacity="0.35" transform="rotate(-49 94.1 3.0)"/>
<ellipse cx="96.5" cy="18.6" rx="9.3" ry="1.3" fill="rgb(100,100,100)" opacity="0.35" transform="rotate(-39 96.5 18.6)"/>
<ellipse cx="80.2" cy="23.9" rx="12.2" ry="1.3" fill="rgb(104,104,104)" opacity="0.35" transform="rotate(-46 80.2 23.9)"/>
<ellipse cx="97.3" cy="81.1" rx="6.3" ry="0.9" fill="rgb(106,106,106)" opacity="0.35" transform="rotate(22 97.3 81.1)"/>
<ellipse cx="151.0" cy="83.7" rx="9.2" ry="1.1" fill="rgb(108,108,108)" opacity="0.35" transform="rotate(13 151.0 83.7)"/>
<ellipse cx="124.1" cy="101.3" rx="5.8" ry="1.1" fill="rgb(98,98,98)" opacity="0.35" transform="rotate(28 124.1 101.3)"/>
<ellipse cx="141.2" cy="57.2" rx="8.5" ry="0.7" fill="rgb(116,116,116)" opacity="0.35" transform="rotate(-2 141.2 57.2)"/></g>
<clipPath id="clip1"><rect x="117" y="76" width="147" height="108"/></clipPath>
<clipPath id="clip2"><rect x="117" y="313" width="148" height="106"/></clipPath>
</defs>
<svg x="117" y="76" width="147" height="108"><use href="#tex"/></svg>
<svg x="117" y="313" width="147" height="106"><g transform="translate(0,106) scale(1,-1)"><use href="#tex"/></g></svg>
<rect x="-4" y="-4" width="152" height="56" fill="#fbfc98" stroke="#8f8f70" stroke-width="1.4"/>
<rect x="311.5" y="131" width="178" height="51" fill="#fbfc98" stroke="#8f8f70" stroke-width="1.4"/>
<rect x="610" y="215" width="120" height="51.5" fill="#ffff00" stroke="#85853a" stroke-width="1.4"/>
<rect x="311.5" y="310.5" width="178" height="29" fill="#97fb66" stroke="#6a905a" stroke-width="1.4"/>
<rect x="-4" y="454.5" width="152" height="51.5" fill="#97fb66" stroke="#6a905a" stroke-width="1.4"/>
<rect x="-3" y="189" width="173" height="119" rx="15" ry="15" fill="#ffcc00" stroke="#76652a" stroke-width="1.4"/>
<polygon points="182.0,2.8 187.1,8.7 194.8,5.9 195.9,13.4 204.1,14.4 201.0,21.4 207.5,26.0 201.0,30.6 204.1,37.6 195.9,38.6 194.8,46.1 187.1,43.3 182.0,49.2 176.9,43.3 169.2,46.1 168.1,38.6 159.9,37.6 163.0,30.6 156.5,26.0 163.0,21.4 159.9,14.4 168.1,13.4 169.2,5.9 176.9,8.7" fill="#fbfc98" stroke="#6a6a6a" stroke-width="1.5"/>
<polygon points="260.0,2.8 265.1,8.7 272.8,5.9 273.9,13.4 282.1,14.4 279.0,21.4 285.5,26.0 279.0,30.6 282.1,37.6 273.9,38.6 272.8,46.1 265.1,43.3 260.0,49.2 254.9,43.3 247.2,46.1 246.1,38.6 237.9,37.6 241.0,30.6 234.5,26.0 241.0,21.4 237.9,14.4 246.1,13.4 247.2,5.9 254.9,8.7" fill="#fbfc98" stroke="#6a6a6a" stroke-width="1.5"/>
<polygon points="185.3,453.0 190.4,458.9 198.1,456.1 199.2,463.6 207.4,464.6 204.3,471.6 210.8,476.2 204.3,480.8 207.4,487.8 199.2,488.8 198.1,496.3 190.4,493.5 185.3,499.4 180.2,493.5 172.6,496.3 171.4,488.8 163.2,487.8 166.3,480.8 159.8,476.2 166.3,471.6 163.2,464.6 171.4,463.6 172.6,456.1 180.2,458.9" fill="#97fb66" stroke="#5f6f5f" stroke-width="1.5"/>
<polygon points="264.7,453.0 269.8,458.9 277.4,456.1 278.6,463.6 286.8,464.6 283.7,471.6 290.2,476.2 283.7,480.8 286.8,487.8 278.6,488.8 277.4,496.3 269.8,493.5 264.7,499.4 259.6,493.5 251.9,496.3 250.8,488.8 242.6,487.8 245.7,480.8 239.2,476.2 245.7,471.6 242.6,464.6 250.8,463.6 251.9,456.1 259.6,458.9" fill="#97fb66" stroke="#5f6f5f" stroke-width="1.5"/>
<g transform="translate(182.9,31.5) scale(0.95,1)"><text x="0" y="0" font-size="16" fill="#222" stroke="#222" stroke-width="0.45" text-anchor="middle">H<tspan font-size="10" dy="3.7">2</tspan><tspan dy="-3.7">O</tspan></text></g>
<g transform="translate(260.5,31.5) scale(0.95,1)"><text x="0" y="0" font-size="16" fill="#222" stroke="#222" stroke-width="0.45" text-anchor="middle">CO<tspan font-size="10" dy="3.7">2</tspan><tspan dy="-3.7"></tspan></text></g>
<g transform="translate(185.5,482.3) scale(0.95,1)"><text x="0" y="0" font-size="16" fill="#123d10" stroke="#123d10" stroke-width="0.45" text-anchor="middle">H<tspan font-size="10" dy="3.7">2</tspan><tspan dy="-3.7">O</tspan></text></g>
<g transform="translate(264.7,482.3) scale(0.95,1)"><text x="0" y="0" font-size="16" fill="#123d10" stroke="#123d10" stroke-width="0.45" text-anchor="middle">CO<tspan font-size="10" dy="3.7">2</tspan><tspan dy="-3.7"></tspan></text></g>
<text x="33" y="20.7" font-size="15.8" fill="#1a1a1a" font-weight="bold" textLength="81" lengthAdjust="spacingAndGlyphs">Night-time</text>
<text x="24.6" y="42.8" font-size="15.8" fill="#1a1a1a" font-weight="bold" textLength="97" lengthAdjust="spacingAndGlyphs">transpiration</text>
<text x="359" y="151.4" font-size="15.8" fill="#1a1a1a" font-weight="bold" textLength="80.4" lengthAdjust="spacingAndGlyphs">Night-time</text>
<text x="357.5" y="174" font-size="15.8" fill="#1a1a1a" font-weight="bold" textLength="83" lengthAdjust="spacingAndGlyphs">respiration</text>
<text x="650" y="235" font-size="15.8" fill="#1a1a1a" font-weight="bold" textLength="30.8" lengthAdjust="spacingAndGlyphs">Leaf</text>
<text x="624" y="256.7" font-size="15.8" fill="#1a1a1a" font-weight="bold" textLength="76.8" lengthAdjust="spacingAndGlyphs">expansion</text>
<text x="343" y="329.9" font-size="15.8" fill="#0e2a08" font-weight="bold" textLength="115.2" lengthAdjust="spacingAndGlyphs">Photosynthesis</text>
<text x="36.7" y="474.4" font-size="15.8" fill="#0e2a08" font-weight="bold" textLength="68.9" lengthAdjust="spacingAndGlyphs">Day-time</text>
<text x="22.2" y="495.6" font-size="15.8" fill="#0e2a08" font-weight="bold" textLength="97.8" lengthAdjust="spacingAndGlyphs">transpiration</text>
<text x="24.8" y="206" font-size="14.2" fill="#3a2800" font-weight="bold" textLength="112.2" lengthAdjust="spacingAndGlyphs">Stomatal control</text>
<text stroke="#3a2800" stroke-width="0.35" x="24.8" y="223.7" font-size="14.2" fill="#3a2800" textLength="132.2" lengthAdjust="spacingAndGlyphs">Leaf water potential</text>
<circle cx="10.2" cy="219.0" r="2.2" fill="#1a1000"/>
<text x="24.8" y="242.7" font-size="14.2" fill="#3a2800" stroke="#3a2800" stroke-width="0.35" textLength="18" lengthAdjust="spacingAndGlyphs">CO</text>
<text x="42.5" y="246.2" font-size="9" fill="#3a2800" stroke="#3a2800" stroke-width="0.3">2</text>
<text stroke="#3a2800" stroke-width="0.35" x="47.5" y="242.7" font-size="14.2" fill="#3a2800" textLength="120.5" lengthAdjust="spacingAndGlyphs">-internal/ambient</text>
<circle cx="10.2" cy="238.0" r="2.2" fill="#1a1000"/>
<text stroke="#3a2800" stroke-width="0.35" x="24.8" y="263.7" font-size="14.2" fill="#3a2800" textLength="85.5" lengthAdjust="spacingAndGlyphs">Trehalose-6P</text>
<circle cx="10.2" cy="259.0" r="2.2" fill="#1a1000"/>
<text stroke="#3a2800" stroke-width="0.35" x="24.8" y="282" font-size="14.2" fill="#3a2800" textLength="26.7" lengthAdjust="spacingAndGlyphs">ABA</text>
<circle cx="10.2" cy="277.3" r="2.2" fill="#1a1000"/>
<text stroke="#3a2800" stroke-width="0.35" x="24.8" y="301" font-size="14.2" fill="#3a2800" textLength="88" lengthAdjust="spacingAndGlyphs">Internal clock</text>
<circle cx="10.2" cy="296.3" r="2.2" fill="#1a1000"/>
<text stroke="#333" stroke-width="0.3" x="372.5" y="233" font-size="14.8" fill="#333" textLength="50.5" lengthAdjust="spacingAndGlyphs">Storage</text>
<text stroke="#333" stroke-width="0.3" x="354.5" y="252.6" font-size="14.8" fill="#333" textLength="87" lengthAdjust="spacingAndGlyphs">carbohydrate</text>
<text stroke="#333" stroke-width="0.3" x="362.5" y="272.9" font-size="14.8" fill="#333" textLength="71" lengthAdjust="spacingAndGlyphs">Dry matter</text>
<rect x="327.7" y="247.1" width="17" height="3.2" fill="#111"/><rect x="334.6" y="240.3" width="3.2" height="16.6" fill="#111"/>
<rect x="465.5" y="248" width="9" height="3" fill="#111"/>
<path d="M319.6,240.0 C319.6,241.2 319.7,243.9 319.8,247.1 C319.9,250.3 319.5,255.1 320.5,259.2 C321.5,263.2 323.2,267.5 325.9,271.4 C328.6,275.2 332.6,279.3 336.8,282.3 C341.1,285.3 345.6,287.4 351.4,289.5 C357.2,291.6 368.1,294.1 371.4,295.0 L371.4,282.3 C368.5,281.7 359.2,280.4 353.8,278.6 C348.4,276.8 343.6,274.2 339.2,271.4 C334.8,268.6 330.2,265.1 327.1,261.7 C324.0,258.3 321.6,253.4 320.5,250.8 C319.4,248.2 320.2,246.8 320.2,246.0 Z" fill="#66cc33" stroke="#4a7040" stroke-width="1.1"/>
<path d="M319.5,243.5 C319.6,242.4 319.2,240.0 320.0,236.8 C320.8,233.6 322.0,228.4 324.0,224.5 C326.0,220.6 328.6,216.5 331.8,213.3 C335.0,210.1 338.7,207.2 343.0,205.4 C347.3,203.6 355.1,202.9 357.5,202.4 L357.5,196 L371.2,206.6 L358.1,221.7 L358.0,216.2 C356.1,216.4 350.2,216.2 346.4,217.2 C342.6,218.2 338.4,220.1 335.2,222.2 C332.0,224.3 329.4,227.4 327.3,230.0 C325.2,232.6 323.9,235.7 322.8,237.9 C321.8,240.2 321.3,242.6 321.0,243.5 Z" fill="#88ee33" stroke="#4a7040" stroke-width="1.1"/>
<path d="M433.5,197.2 C436.4,197.5 445.3,197.5 451.1,199.1 C456.9,200.7 463.3,203.7 468.1,207.0 C472.9,210.3 477.1,214.6 479.9,218.7 C482.7,222.8 484.1,228.1 485.1,231.8 C486.1,235.5 485.6,239.5 485.7,241.0 L482.5,241.0 C482.3,240.2 482.1,238.3 481.2,236.0 C480.3,233.7 479.6,230.2 477.2,227.2 C474.8,224.1 471.1,220.5 466.8,217.7 C462.5,214.9 456.7,211.9 451.1,210.5 C445.6,209.1 436.4,209.7 433.5,209.5 Z" fill="#d9d77c" stroke="#767660" stroke-width="1.1"/>
<path d="M485.5,236.0 C485.6,237.8 485.9,243.1 485.8,247.0 C485.8,250.9 486.4,254.5 485.2,259.2 C484.0,263.9 481.8,270.6 478.5,275.0 C475.2,279.4 470.4,283.4 465.2,285.9 C459.9,288.4 450.0,289.5 447.0,290.2 L446.4,297.4 L433.6,284.7 L446.4,270.8 L447.0,276.8 C449.6,275.7 457.9,273.1 462.7,270.2 C467.5,267.3 472.8,262.6 476.0,259.2 C479.2,255.8 480.8,252.5 482.0,249.5 C483.2,246.5 483.1,243.2 483.3,241.0 C483.6,238.8 483.5,236.8 483.5,236.0 Z" fill="#f7f590" stroke="#767660" stroke-width="1.1"/>
<polygon points="509.6,152.7 589.8,216.5 593.6,210.5 596.4,231.5 576.2,232.8 579.6,228.7 500.3,163.3" fill="#f9f898" stroke="#707068" stroke-width="1.4"/>
<polygon points="498.9,321.2 580.4,261 576.8,254.7 596.7,257.8 593.7,277.8 590.1,271.6 507.7,332.7" fill="#97fb66" stroke="#4f6a45" stroke-width="1.4"/>
<polygon points="304.1,458.2 578,307.3 575.2,301.2 594.8,307.3 588.7,325.4 586.8,321.3 310.9,471.3" fill="#97fb66" stroke="#4f6a45" stroke-width="1.4"/>
<polygon points="174.8,221.5 195.2,197.7 190.8,192.9 213.6,192.9 213.1,213.7 207.8,208.9 184.5,231.5" fill="#ffc800" stroke="#6f6a45" stroke-width="1.2"/>
<polygon points="172.6,223.7 174.8,221.5 184.5,231.5 182.4,233.4" fill="#28407a" stroke="#28407a" stroke-width="0.6"/>
<polygon points="181,238.5 216.8,238.5 216.8,231.4 231.4,246 216.8,260.6 216.8,253.5 181,253.5" fill="#ffc800" stroke="#6f6a45" stroke-width="1.2"/>
<rect x="180.5" y="238.5" width="3" height="15" fill="#28407a"/>
<polygon points="182.6,258.7 208.3,282 213.6,276.7 215.6,298.5 193.7,298 197.1,293.7 172.4,268.9" fill="#ffc800" stroke="#6f6a45" stroke-width="1.2"/>
<polygon points="172.4,268.9 182.6,258.7 184.5,260.6 174.3,270.8" fill="#28407a" stroke="#28407a" stroke-width="0.6"/>
<line x1="191" y1="104" x2="191" y2="63" stroke="#cfe0f2" stroke-width="3"/>
<line x1="191" y1="104" x2="191" y2="63" stroke="#3a64b8" stroke-width="3" stroke-dasharray="5,3"/>
<polygon points="191,49.3 196.1,64.3 185.9,64.3" fill="#3a6ec8" stroke="#2d4f90" stroke-width="0.6"/>
<path d="M190.5,126.8 C205,115 220,105 223,85 C225,72 220,64 215,58" fill="none" stroke="#34478a" stroke-width="2.3"/>
<polygon points="203.6,45.6 221.3,54 210.1,63.3" fill="#3a6ec8" stroke="#2d4f90" stroke-width="0.6"/>
<path d="M303.3,166.7 C285,165 266,163 252,157 C238,151 226,140 222,126 C219,112 220,98 223,91 C226,84 232,75 241,64" fill="none" stroke="#e020e0" stroke-width="2.8"/>
<polygon points="249.5,51.5 235.3,62.4 246.5,68" fill="#ee55dd" stroke="#8a4a8a" stroke-width="0.6"/>
<line x1="192.7" y1="390" x2="192.7" y2="438" stroke="#cfe0f2" stroke-width="3"/>
<line x1="192.7" y1="390" x2="192.7" y2="438" stroke="#3a64b8" stroke-width="3" stroke-dasharray="5,3"/>
<polygon points="192.7,452.7 187.8,437 198.4,437" fill="#3a6ec8" stroke="#2d4f90" stroke-width="0.6"/>
<path d="M184.7,372.1 C205,377 222,390 227,410 C230,422 226,434 217,441" fill="none" stroke="#34478a" stroke-width="2.3"/>
<polygon points="206,454.5 210.4,437.7 222.8,446.5" fill="#3a6ec8" stroke="#2d4f90" stroke-width="0.6"/>
<path d="M255,444.3 C248,432 236,418 229.7,405.5 C224,393 223.7,370 223.7,354.8 C224,340 235,332 250.6,329.4 C262,327.5 275,326.8 284,326.8" fill="none" stroke="#e020e0" stroke-width="2.8"/>
<polygon points="283,320.4 298.5,327 283,333.3" fill="#e868dc" stroke="#6a4a6a" stroke-width="1"/>
<text x="596.3" y="537.6" font-size="15.5" font-weight="bold" fill="#111" textLength="127" lengthAdjust="spacingAndGlyphs">Trends in Plant Science</text>
</svg>
</body></html>
